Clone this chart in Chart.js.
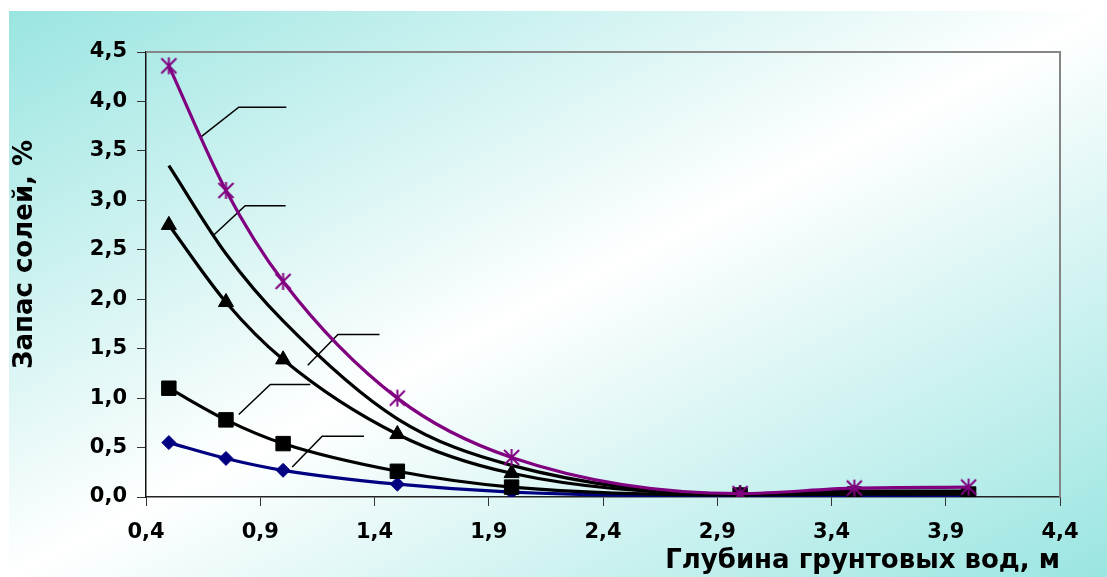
<!DOCTYPE html>
<html><head><meta charset="utf-8">
<script src="https://cdn.jsdelivr.net/npm/chart.js@4.4.1/dist/chart.umd.min.js"></script>
<style>html,body{margin:0;padding:0;background:#fff}#wrap{width:1107px;height:577px;position:relative}</style>
</head><body><div id="wrap"><canvas id="c" width="1107" height="577"></canvas></div>
<script>
// ---- data ----
const depths = [0.5, 0.75, 1.0, 1.5, 2.0, 3.0, 3.5, 4.0];
const saltDiamond  = [0.55, 0.39, 0.27, 0.13, 0.05, 0.01, 0.01, 0.01];
const saltSquare   = [1.10, 0.78, 0.54, 0.26, 0.10, 0.02, 0.03, 0.03];
const saltTriangle = [2.75, 1.97, 1.39, 0.635, 0.24, 0.03, 0.04, 0.04];
const saltPlain    = [3.35, 2.46, 1.78, 0.79, 0.32, 0.03, 0.06, 0.06];
const saltStar     = [4.36, 3.10, 2.18, 1.00, 0.40, 0.035, 0.09, 0.10];
const xTickValues = [0.4, 0.9, 1.4, 1.9, 2.4, 2.9, 3.4, 3.9, 4.4];
const yTickValues = [0, 0.5, 1.0, 1.5, 2.0, 2.5, 3.0, 3.5, 4.0, 4.5];
const xAxisTitle = 'Глубина грунтовых вод, м';
const yAxisTitle = 'Запас солей, %';
// callout leader lines (data units)
const calloutStar     = [[0.642, 3.644], [0.806, 3.941], [1.014, 3.941]];
const calloutPlain    = [[0.692, 2.639], [0.834, 2.945], [1.011, 2.945]];
const calloutTriangle = [[1.108, 1.333], [1.240, 1.644], [1.422, 1.644]];
const calloutSquare   = [[0.806, 0.834], [0.944, 1.138], [1.119, 1.138]];
const calloutDiamond  = [[1.040, 0.304], [1.171, 0.614], [1.354, 0.614]];

const pts = (ys) => depths.map((x, i) => ({x: x, y: ys[i]}));
const seg = (arr) => arr.map(p => ({x: p[0], y: p[1]}));
const fmt = (v) => Number(v).toFixed(1).replace('.', ',');

// asterisk marker
const starImg = document.createElement('canvas');
starImg.width = 19; starImg.height = 19;
(function(){
  const g = starImg.getContext('2d');
  g.strokeStyle = '#800080'; g.lineWidth = 2;
  g.beginPath();
  g.moveTo(2, 2); g.lineTo(17, 17);
  g.moveTo(17, 2); g.lineTo(2, 17);
  g.moveTo(9.5, 1); g.lineTo(9.5, 18);
  g.stroke();
})();

const bgPlugin = {
  id: 'bg',
  beforeDraw(chart) {
    const ctx = chart.ctx;
    ctx.save();
    ctx.fillStyle = '#ffffff';
    ctx.fillRect(0, 0, chart.width, chart.height);
    const x0 = 9, y0 = 11, w = chart.width - x0, h = chart.height - y0;
    ctx.translate(x0, y0);
    ctx.scale(w, h);
    const gr = ctx.createLinearGradient(0, 0, 1, 1);
    gr.addColorStop(0, '#9ae5e1');
    gr.addColorStop(0.5, '#ffffff');
    gr.addColorStop(1, '#9ae5e1');
    ctx.fillStyle = gr;
    ctx.fillRect(0, 0, 1, 1);
    ctx.restore();
  }
};
const framePlugin = {
  id: 'frame',
  beforeDatasetsDraw(chart) {
    const a = chart.chartArea, ctx = chart.ctx;
    ctx.save();
    ctx.strokeStyle = '#858585';
    ctx.lineWidth = 2;
    ctx.beginPath();
    ctx.moveTo(a.left, a.top);
    ctx.lineTo(a.right, a.top);
    ctx.lineTo(a.right, a.bottom);
    ctx.stroke();
    ctx.restore();
  }
};
// y-axis title, placed a little above the axis centre as in the original
const yTitlePlugin = {
  id: 'ytitle',
  afterDraw(chart) {
    const ctx = chart.ctx, a = chart.chartArea;
    ctx.save();
    ctx.translate(25, a.top + (a.bottom - a.top) * 0.455);
    ctx.rotate(-Math.PI / 2);
    ctx.font = 'bold 26px "DejaVu Sans"';
    ctx.fillStyle = '#000';
    ctx.textAlign = 'center';
    ctx.textBaseline = 'middle';
    ctx.fillText(yAxisTitle, 0, 0);
    ctx.restore();
  }
};

const lineBase = {fill: false, borderWidth: 3.2, cubicInterpolationMode: 'monotone', showLine: true};
const leader = (d) => ({data: seg(d), borderColor: '#000', borderWidth: 1.5, pointRadius: 0, tension: 0, fill: false});

new Chart(document.getElementById('c'), {
  type: 'line',
  data: {
    datasets: [
      Object.assign({data: pts(saltStar), borderColor: '#800080', pointStyle: starImg, pointRadius: 9}, lineBase),
      Object.assign({data: pts(saltPlain), borderColor: '#000000', pointRadius: 0}, lineBase),
      Object.assign({data: pts(saltTriangle), borderColor: '#000000', pointStyle: 'triangle', pointRadius: 8.7, pointBackgroundColor: '#000', pointBorderColor: '#000', pointBorderWidth: 1}, lineBase),
      Object.assign({data: pts(saltSquare), borderColor: '#000000', pointStyle: 'rect', pointRadius: 10.2, pointBackgroundColor: '#000', pointBorderColor: '#000', pointBorderWidth: 1}, lineBase),
      Object.assign({data: pts(saltDiamond), borderColor: '#000080', pointStyle: 'rectRot', pointRadius: 7, pointBackgroundColor: '#000080', pointBorderColor: '#000080', pointBorderWidth: 1}, lineBase),
      leader(calloutStar), leader(calloutPlain), leader(calloutTriangle), leader(calloutSquare), leader(calloutDiamond)
    ]
  },
  options: {
    responsive: false,
    devicePixelRatio: 1,
    animation: false,
    layout: {padding: {left: 9, top: 52, right: 47, bottom: 0}},
    plugins: {legend: {display: false}, tooltip: {enabled: false}},
    scales: {
      x: {
        type: 'linear', min: 0.4, max: 4.4,
        afterBuildTicks(s) { s.ticks = xTickValues.map(v => ({value: v})); },
        afterFit(s) { s.height = 80; },
        grid: {display: true, drawOnChartArea: false, drawTicks: true, tickLength: 9, color: '#333', lineWidth: 1},
        border: {display: true, color: '#222', width: 1.5},
        ticks: {padding: 14, color: '#000', font: {family: 'DejaVu Sans', weight: 'bold', size: 21}, callback: fmt, maxRotation: 0, autoSkip: false},
        title: {display: true, text: xAxisTitle, align: 'end', color: '#000', font: {family: 'DejaVu Sans', weight: 'bold', size: 26}, padding: {top: 0, bottom: 0}}
      },
      y: {
        type: 'linear', min: 0, max: 4.5,
        afterBuildTicks(s) { s.ticks = yTickValues.map(v => ({value: v})); },
        afterFit(s) { s.width = 137; },
        grid: {display: true, drawOnChartArea: false, drawTicks: true, tickLength: 9, color: '#333', lineWidth: 1},
        border: {display: true, color: '#111', width: 1.5},
        ticks: {padding: 10, color: '#000', font: {family: 'DejaVu Sans', weight: 'bold', size: 21}, callback: fmt, autoSkip: false},
        title: {display: false, text: yAxisTitle}
      }
    }
  },
  plugins: [bgPlugin, framePlugin, yTitlePlugin]
});
</script>
</body></html>
